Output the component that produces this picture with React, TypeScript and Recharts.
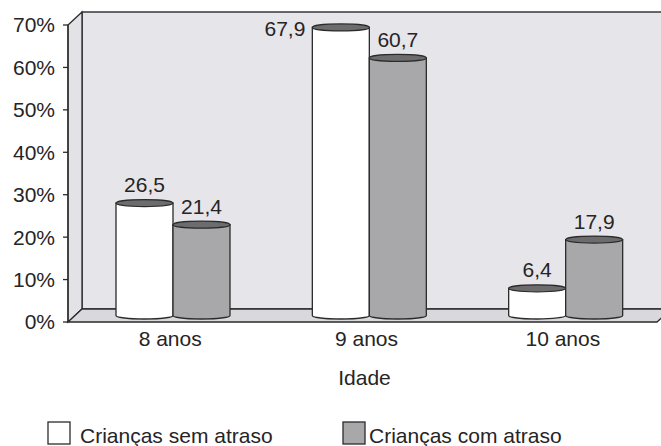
import React from 'react';
import { BarChart, Bar, XAxis, YAxis, ReferenceArea, LabelList, Label } from 'recharts';

const categories = ['8 anos', '9 anos', '10 anos'];
const semAtraso = [26.5, 67.9, 6.4];
const comAtraso = [21.4, 60.7, 17.9];
const yTicks = [0, 10, 20, 30, 40, 50, 60, 70];
const seriesNames = ['Crianças sem atraso', 'Crianças com atraso'];
const seriesColors = ['#ffffff', '#a8a8ab'];
const axisTitle = 'Idade';

const data = categories.map((c, i) => ({ idade: c, sem: semAtraso[i], com: comAtraso[i] }));

const FONT = '"Liberation Sans", Arial, Helvetica, sans-serif';
const FS = 21;
const INK = '#262425';
const EDGE = '#2b2b2b';
const DX = 14;
const DY = -13;

function Frame(props: any) {
  const { x, y, width, height } = props;
  if (x == null || y == null) return null;
  const L = x, T = y, R = x + width, B = y + height;
  return (
    <g>
      <rect x={L + DX} y={T + DY} width={width + 40} height={height} fill="#e6e5e9" stroke={EDGE} strokeWidth={1.4} />
      <polygon points={`${L},${T} ${L + DX},${T + DY} ${L + DX},${B + DY} ${L},${B}`} fill="#e3e2e6" stroke={EDGE} strokeWidth={1.3} />
      <polygon points={`${L},${B} ${R},${B} ${R + DX},${B + DY} ${L + DX},${B + DY}`} fill="#d9d8dc" stroke={EDGE} strokeWidth={1.3} />
    </g>
  );
}

function Cylinder(props: any) {
  const { x, y, width, height, fill } = props;
  if (x == null || y == null || width == null || height == null) return null;
  const X = x + DX / 2;
  const W = width;
  const top = y + DY / 2;
  const base = y + height + DY / 2;
  const rx = W / 2;
  const ry = 3.5;
  const d = `M${X},${top} L${X},${base} A${rx},${ry} 0 0 0 ${X + W},${base} L${X + W},${top} Z`;
  return (
    <g>
      <path d={d} fill={fill} stroke={EDGE} strokeWidth={1.3} />
      <ellipse cx={X + rx} cy={top} rx={rx} ry={ry} fill="#6c6c6e" stroke={EDGE} strokeWidth={1.2} />
    </g>
  );
}

function ValueLabel(props: any) {
  const vb = props.viewBox || {};
  const x = props.x ?? vb.x;
  const y = props.y ?? vb.y;
  const width = props.width ?? vb.width;
  if (x == null || y == null) return null;
  const txt = String(props.value).replace('.', ',');
  const top = y + DY / 2;
  const above = top - 11;
  if (above - 15 < 8) {
    // no room above the chart top: place label to the left of the bar
    return (
      <text x={x + DX / 2 - 7} y={top + 9} textAnchor="end" fontFamily={FONT} fontSize={FS} fill={INK}>
        {txt}
      </text>
    );
  }
  return (
    <text x={x + DX / 2 + width / 2} y={above} textAnchor="middle" fontFamily={FONT} fontSize={FS} fill={INK}>
      {txt}
    </text>
  );
}

function XTick(props: any) {
  const { x, y, payload } = props;
  return (
    <text x={x + 4} y={y + 24} textAnchor="middle" fontFamily={FONT} fontSize={FS} fill={INK}>
      {payload.value}
    </text>
  );
}

function AxisTitle(props: any) {
  const vb = props.viewBox || { x: 68, y: 322, width: 589 };
  return (
    <text x={vb.x + vb.width / 2 + 2} y={vb.y + 63} textAnchor="middle" fontFamily={FONT} fontSize={FS} fill={INK}>
      {axisTitle}
    </text>
  );
}

export default function App() {
  return (
    <div style={{ position: 'absolute', left: 0, top: 0, width: 661, height: 446, background: '#ffffff' }}>
      <BarChart
        width={661}
        height={446}
        data={data}
        margin={{ top: 25, right: 4, bottom: 54, left: 0 }}
        barGap={0}
        barSize={57}
      >
        <ReferenceArea y1={0} y2={70} shape={(p: any) => <Frame {...p} />} ifOverflow="visible" />
        <XAxis
          dataKey="idade"
          axisLine={false}
          tickLine={false}
          tickSize={0}
          tickMargin={0}
          height={70}
          tick={(p: any) => <XTick {...p} />}
          interval={0}
        >
          <Label content={(p: any) => <AxisTitle {...p} />} />
        </XAxis>
        <YAxis
          width={68}
          domain={[0, 70]}
          ticks={yTicks}
          interval={0}
          axisLine={false}
          tickLine={{ stroke: EDGE, strokeWidth: 1.3 }}
          tickSize={5}
          tickMargin={8}
          tickFormatter={(v: number) => `${v}%`}
          tick={{ fontFamily: FONT, fontSize: FS, fill: INK }}
        />
        <Bar dataKey="sem" name={seriesNames[0]} fill={seriesColors[0]} isAnimationActive={false} shape={(p: any) => <Cylinder {...p} />}>
          <LabelList dataKey="sem" content={(p: any) => <ValueLabel {...p} />} />
        </Bar>
        <Bar dataKey="com" name={seriesNames[1]} fill={seriesColors[1]} isAnimationActive={false} shape={(p: any) => <Cylinder {...p} />}>
          <LabelList dataKey="com" content={(p: any) => <ValueLabel {...p} />} />
        </Bar>
      </BarChart>
      <svg width={661} height={446} style={{ position: 'absolute', left: 0, top: 0, pointerEvents: 'none' }}>
        <line x1={68} y1={25} x2={68} y2={322} stroke={EDGE} strokeWidth={1.3} />
        {seriesNames.map((name, i) => {
          const sx = i === 0 ? 48 : 343;
          const tx = i === 0 ? 80 : 369;
          return (
            <g key={name}>
              <rect x={sx} y={422} width={22} height={22} fill={seriesColors[i]} stroke={EDGE} strokeWidth={1.3} />
              <text x={tx} y={443} fontFamily={FONT} fontSize={FS} fill={INK}>{name}</text>
            </g>
          );
        })}
      </svg>
    </div>
  );
}
